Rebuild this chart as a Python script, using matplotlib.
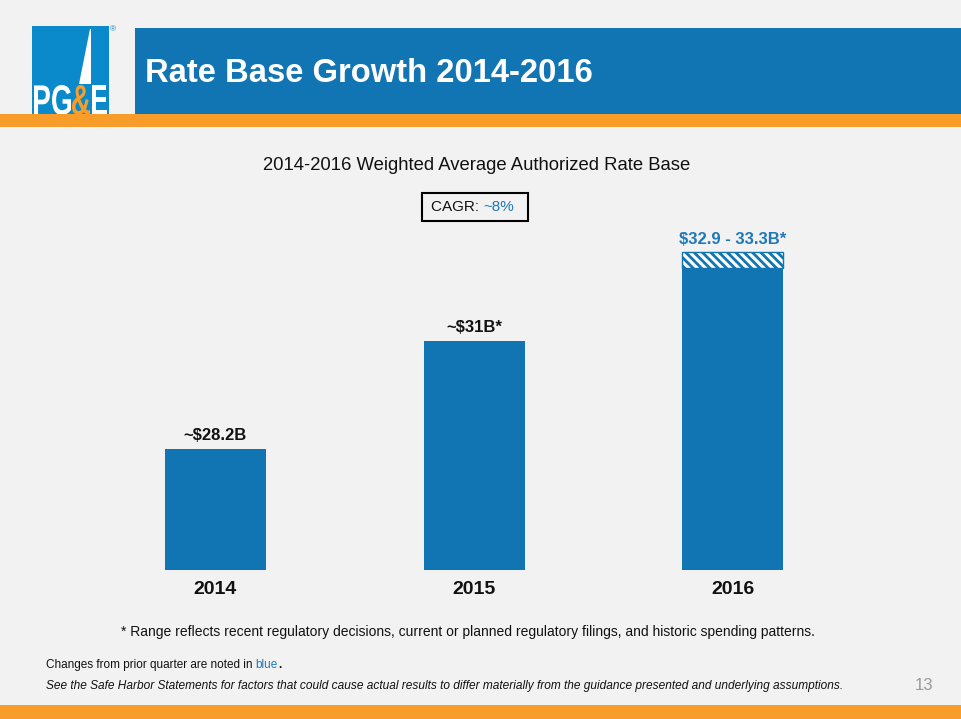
import matplotlib
matplotlib.use("Agg")
import matplotlib.pyplot as plt
from matplotlib.patches import Rectangle, Polygon, PathPatch
from matplotlib.textpath import TextPath
from matplotlib.font_manager import FontProperties
from matplotlib.transforms import Affine2D

# ---- data ----
years = ["2014", "2015", "2016"]
low_values = [28.2, 31.0, 32.9]
high_values = [28.2, 31.0, 33.3]
value_labels = ["~$28.2B", "~$31B*", "$32.9 - 33.3B*"]
label_is_new = [False, False, True]
chart_title = "2014-2016 Weighted Average Authorized Rate Base"
cagr_prefix = "CAGR: "
cagr_value = "~8%"
slide_title = "Rate Base Growth 2014-2016"
footnote = "* Range reflects recent regulatory decisions, current or planned regulatory filings, and historic spending patterns."
note1_a = "Changes from prior quarter are noted in "
note1_b = "blue"
note2 = "See the Safe Harbor Statements for factors that could cause actual results to differ materially from the guidance presented and underlying assumptions."
page_no = "13"

W, H = 961, 719
BG = "#f2f2f2"
BLUE = "#1175b4"
TXTBLUE = "#1f78b8"
ORANGE = "#f89c2a"
LOGO_BLUE = "#0a8acb"

plt.rcParams["font.family"] = ["Liberation Sans", "DejaVu Sans"]
plt.rcParams["hatch.linewidth"] = 2.0

fig = plt.figure(figsize=(W / 100, H / 100), dpi=100, facecolor=BG)
PXT = Affine2D().scale(1 / W, 1 / H) + fig.transFigure  # pixel (bottom-origin) -> figure


def fx(x):
    return x / W


def fy(y):
    return 1 - y / H


def rect_px(x0, y0, x1, y1, **kw):
    fig.patches.append(Rectangle((fx(x0), fy(y1)), fx(x1) - fx(x0), fy(y0) - fy(y1),
                                 transform=fig.transFigure, **kw))


def boxed_text(s, x0, x1, ytop, ybot, color):
    tp = TextPath((0, 0), s, size=40, prop=FontProperties(family="Liberation Sans", weight="bold"))
    ext = tp.get_extents()
    sx = (x1 - x0) / ext.width
    sy = (ybot - ytop) / ext.height
    tr = Affine2D().translate(-ext.x0, -ext.y0).scale(sx, sy).translate(x0, H - ybot) + PXT
    fig.patches.append(PathPatch(tp, transform=tr, facecolor=color, edgecolor="none"))


# header
rect_px(135, 28, 961, 114, facecolor=BLUE, edgecolor="none")
rect_px(0, 705, 961, 719, facecolor=ORANGE, edgecolor="none")
# logo
rect_px(32, 26, 109, 114, facecolor=LOGO_BLUE, edgecolor="none")
fig.patches.append(Polygon([(fx(89.5), fy(29)), (fx(91), fy(29)), (fx(91), fy(84)), (fx(79), fy(84))],
                           closed=True, transform=fig.transFigure, facecolor="white", edgecolor="none"))
boxed_text("PG", 34, 71, 85, 115, "white")
boxed_text("&", 72, 90, 85, 115, ORANGE)
boxed_text("E", 92, 107, 85, 115, "white")
rect_px(0, 114, 961, 127, facecolor=ORANGE, edgecolor="none")
fig.text(fx(113), fy(30), "®", color=LOGO_BLUE, fontsize=6, ha="center", va="center")

fig.text(fx(145), fy(73), slide_title, color="white", fontsize=23.6, fontweight="bold",
         ha="left", va="center")

# chart subtitle & CAGR box
fig.text(fx(477), fy(165), chart_title, color="#111111", fontsize=13.3, ha="center", va="center")
rect_px(422, 193, 528, 221, facecolor="none", edgecolor="black", linewidth=1.5)
t1 = fig.text(fx(431), fy(207), cagr_prefix, color="#111111", fontsize=11, ha="left", va="center")
fig.canvas.draw()
bb = t1.get_window_extent()
fig.text(bb.x1 / W, fy(207), cagr_value, color=TXTBLUE, fontsize=11, ha="left", va="center")

# bars
ax_left, ax_right, ax_top, ax_bottom = 100, 850, 230, 570
ax = fig.add_axes([fx(ax_left), fy(ax_bottom), fx(ax_right) - fx(ax_left), fy(ax_top) - fy(ax_bottom)])
ax.set_facecolor("none")
spacing = 258.5
ax.set_xlim(-(215.5 - ax_left) / spacing, 2 + (ax_right - 732.5) / spacing)
ybase = 25.06
pxper = 38.57
ax.set_ylim(ybase, ybase + (ax_bottom - ax_top) / pxper)
xs = list(range(len(years)))
bw = 101 / spacing
ax.bar(xs, [v - ybase for v in low_values], bottom=ybase, width=bw, color=BLUE, edgecolor="none")
for i in xs:
    d = high_values[i] - low_values[i]
    if d > 0:
        ax.bar(i, d, bottom=low_values[i], width=bw, color="white", edgecolor=BLUE,
               hatch="\\\\\\\\", linewidth=1.0)
    ax.annotate(value_labels[i], (i, high_values[i]), xytext=(0, 4), textcoords="offset points",
                ha="center", va="bottom", fontsize=12, fontweight="bold",
                color=TXTBLUE if label_is_new[i] else "#111111")
ax.set_xticks(xs)
ax.set_xticklabels(years, fontsize=14, fontweight="bold", color="#111111")
ax.tick_params(axis="x", length=0, pad=8)
ax.set_yticks([])
for s in ax.spines.values():
    s.set_visible(False)

# footnotes
fig.text(fx(468), fy(632), footnote, color="#111111", fontsize=10, ha="center", va="center")
n1 = fig.text(fx(46), fy(665), note1_a, color="#111111", fontsize=8.5, ha="left", va="center")
fig.canvas.draw()
b1 = n1.get_window_extent()
n2 = fig.text(b1.x1 / W, fy(665), note1_b, color=TXTBLUE, fontsize=8.5, ha="left", va="center")
fig.canvas.draw()
b2 = n2.get_window_extent()
fig.text(b2.x1 / W, fy(665), ".", color="#111111", fontsize=8.5, ha="left", va="center",
         fontweight="bold")
fig.text(fx(46), fy(686), note2, color="#111111", fontsize=8.6, style="italic",
         ha="left", va="center")
fig.text(fx(924), fy(686), page_no, color="#999999", fontsize=12, ha="center", va="center")

fig.savefig("out.png", dpi=100, facecolor=BG)
